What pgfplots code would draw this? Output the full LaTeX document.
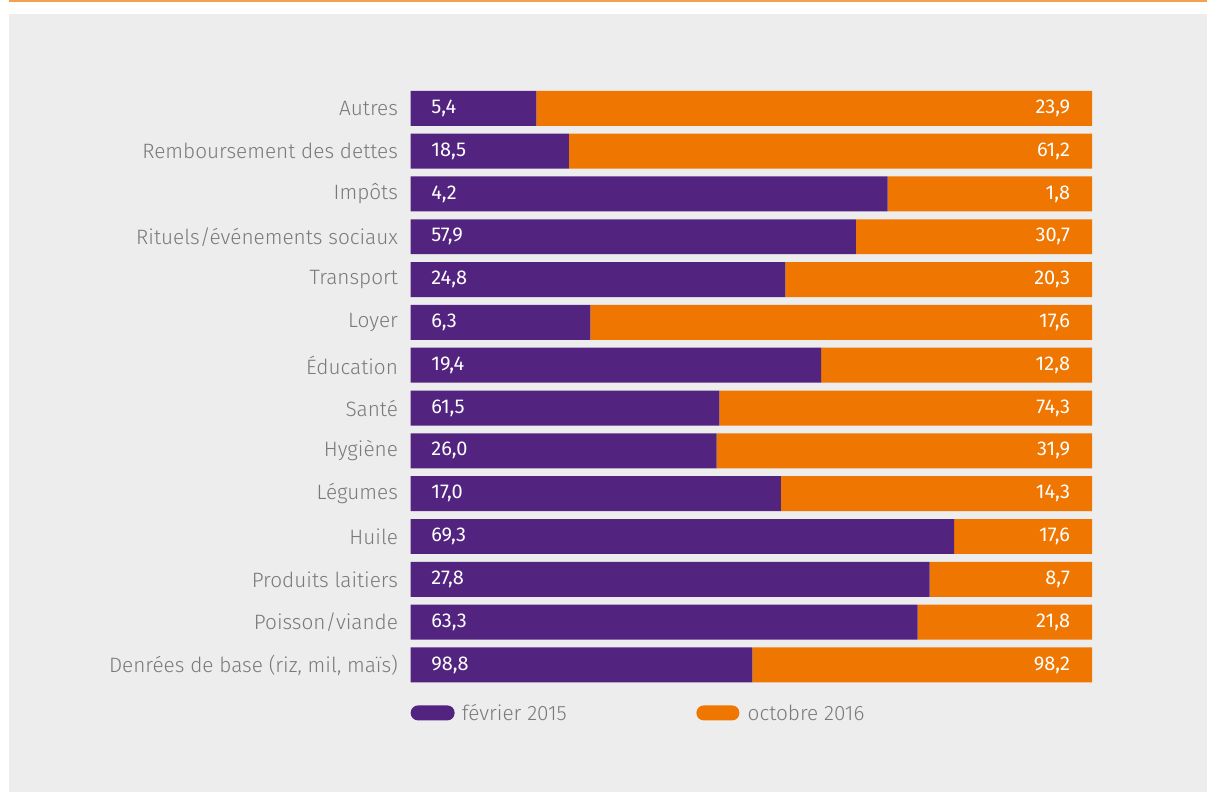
\documentclass[border=0pt]{standalone}
\usepackage{fontspec}
\setmainfont{Fira Sans Light}
\newfontfamily\valfont{Fira Sans}
\usepackage{pgfplots}
\usepackage{pgfplotstable}
\pgfplotsset{compat=1.18}
\definecolor{purp}{HTML}{522480}
\definecolor{oran}{HTML}{EE7601}
\definecolor{bg}{HTML}{EDEDED}
\definecolor{txt}{HTML}{7A7A7A}
\definecolor{topline}{HTML}{F2A14C}

\pgfplotstableread[col sep=semicolon]{
label;a;b
Denrées de base (riz, mil, maïs);98.8;98.2
Poisson/viande;63.3;21.8
Produits laitiers;27.8;8.7
Huile;69.3;17.6
Légumes;17.0;14.3
Hygiène;26.0;31.9
Santé;61.5;74.3
Éducation;19.4;12.8
Loyer;6.3;17.6
Transport;24.8;20.3
Rituels/événements sociaux;57.9;30.7
Impôts;4.2;1.8
Remboursement des dettes;18.5;61.2
Autres;5.4;23.9
}\datatable

\pgfplotsset{
  common/.style={
    at={(308.25pt,-515.2pt)}, anchor=south west,
    scale only axis, width=511.5pt, height=450pt,
    xmin=0, xmax=100, ymin=-0.5, ymax=13.5,
  }
}

\begin{document}
\begin{tikzpicture}
\begin{scope}[x=0.75pt,y=-0.75pt]
\fill[white] (0,0) rectangle (1208,793);
\fill[bg] (9,14) rectangle (1208,793);
\draw[topline, line width=1.5pt] (9,1) -- (1208,1);
\end{scope}

\begin{axis}[common,
  xbar stacked, bar width=26.25pt,
  axis line style={draw=none},
  xtick=\empty, ytick={0,...,13},
  yticklabels from table={\datatable}{label},
  major tick length=0pt,
  yticklabel style={font=\fontsize{15.6}{18}\selectfont, text=txt, xshift=-6pt},
]
\addplot[fill=purp, draw=none] table[x expr={\thisrow{a}/(\thisrow{a}+\thisrow{b})*100}, y expr=\coordindex]{\datatable};
\addplot[fill=oran, draw=none] table[x expr={\thisrow{b}/(\thisrow{a}+\thisrow{b})*100}, y expr=\coordindex]{\datatable};
\end{axis}

\begin{axis}[common, hide axis,
  /pgf/number format/.cd, use comma, fixed, fixed zerofill, precision=1, assume math mode=true,
]
\addplot[draw=none, mark=none, nodes near coords, point meta=\thisrow{a},
  nodes near coords style={anchor=west, xshift=12pt, text=white, font=\valfont\fontsize{15}{18}\selectfont}]
  table[x expr=0, y expr=\coordindex]{\datatable};
\addplot[draw=none, mark=none, nodes near coords, point meta=\thisrow{b},
  nodes near coords style={anchor=east, xshift=-13pt, text=white, font=\valfont\fontsize{15}{18}\selectfont}]
  table[x expr=100, y expr=\coordindex]{\datatable};
\end{axis}

\begin{scope}[x=0.75pt,y=-0.75pt]
\fill[purp, rounded corners=5.5pt] (411,706) rectangle (455,721);
\node[anchor=west, inner sep=0pt, text=txt, font=\fontsize{15.6}{18}\selectfont] at (462,713.5) {février 2015};
\fill[oran, rounded corners=5.5pt] (697,706) rectangle (740,721);
\node[anchor=west, inner sep=0pt, text=txt, font=\fontsize{15.6}{18}\selectfont] at (748,713.5) {octobre 2016};
\end{scope}
\end{tikzpicture}
\end{document}
